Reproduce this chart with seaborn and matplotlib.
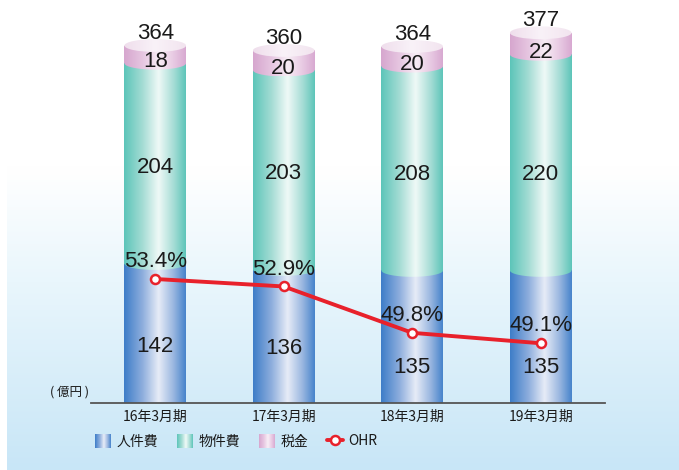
import numpy as np
import pandas as pd
import matplotlib
matplotlib.use("Agg")
import matplotlib.pyplot as plt
import seaborn as sns
from matplotlib.colors import LinearSegmentedColormap
from matplotlib.path import Path
from matplotlib.patches import PathPatch, Ellipse, Rectangle
from matplotlib.lines import Line2D
from matplotlib.legend_handler import HandlerBase

# ---- data -------------------------------------------------------------
periods = ["16年3月期", "17年3月期", "18年3月期", "19年3月期"]
personnel = [142, 136, 135, 135]      # 人件費
property_cost = [204, 203, 208, 220]  # 物件費
tax = [18, 20, 20, 22]                # 税金
totals = [364, 360, 364, 377]
ohr = [53.4, 52.9, 49.8, 49.1]        # OHR (%)
series_names = ["人件費", "物件費", "税金", "OHR"]
unit_label = "( 億円 )"

# ---- style ------------------------------------------------------------
sns.set_theme(style="white")
plt.rcParams["font.family"] = ["Liberation Sans", "Noto Sans CJK JP"]
TXT = "#1a1a1a"
RED = "#e8212b"

cm_blue = LinearSegmentedColormap.from_list(
    "blue", [(0, "#3d7dc8"), (0.3, "#8eaedd"), (0.56, "#e7ecf7"), (0.8, "#9ab7e0"), (1, "#4683cb")])
cm_teal = LinearSegmentedColormap.from_list(
    "teal", [(0, "#5cc5b9"), (0.3, "#a4dcd4"), (0.56, "#eff9f7"), (0.8, "#a7ddd6"), (1, "#5dc5b9")])
cm_pink = LinearSegmentedColormap.from_list(
    "pink", [(0, "#d6a6ce"), (0.3, "#e6c6e1"), (0.56, "#f7edf5"), (0.8, "#e8cae3"), (1, "#d8a9d1")])
cm_face = LinearSegmentedColormap.from_list(
    "face", [(0, "#efdeec"), (0.5, "#f9f2f8"), (1, "#f2e4ef")])
cm_bg = LinearSegmentedColormap.from_list(
    "bg", [(0, "#ffffff"), (0.36, "#ffffff"), (0.6, "#e9f6fc"), (1, "#c8e6f7")])

W, H = 679, 470
fig = plt.figure(figsize=(W / 100, H / 100), dpi=100)

# soft vertical background wash
bg = fig.add_axes([7 / W, 0, 1 - 7 / W, 1], zorder=0)
bg.imshow(np.linspace(0, 1, 256).reshape(-1, 1), cmap=cm_bg, aspect="auto",
          extent=[0, 1, 0, 1], origin="upper", interpolation="bicubic")
bg.set_axis_off()

ax = fig.add_axes([91 / W, 67 / H, 514 / W, 393 / H], zorder=1)
ax.patch.set_alpha(0)

df = pd.DataFrame({"period": periods, "personnel": personnel,
                   "property": property_cost, "tax": tax})
df["c1"] = df["personnel"]
df["c2"] = df["c1"] + df["property"]
df["c3"] = df["c2"] + df["tax"]

# stacked bars: cumulative heights drawn tallest first
for col, c in [("c3", "#d8a9d1"), ("c2", "#5dc5b9"), ("c1", "#4683cb")]:
    sns.barplot(data=df, x="period", y=col, color=c, width=0.48,
                saturation=1, linewidth=0, ax=ax, zorder=1)

YMAX = 400.2
CAP = 6.5  # half-height of the cylinder ellipses, in data units
grad = np.linspace(0, 1, 256).reshape(1, -1)


def segment_path(x0, x1, b, t):
    cx, r = (x0 + x1) / 2, (x1 - x0) / 2
    if b <= 0:
        verts = [(x0, t), (x0, 0), (x1, 0), (x1, t), (x0, t)]
    else:
        th = np.linspace(np.pi, 2 * np.pi, 60)
        arc = list(zip(cx + r * np.cos(th), b + CAP * np.sin(th)))
        verts = [(x0, t)] + arc + [(x1, t), (x0, t)]
    return Path(verts, closed=True)


bar_patches = ax.patches[:len(periods)]
for i, p in enumerate(bar_patches):
    x0, w = p.get_x(), p.get_width()
    x1, cx = x0 + w, x0 + w / 2
    bounds = np.cumsum([0, personnel[i], property_cost[i], tax[i]])
    for k, cm in enumerate([cm_blue, cm_teal, cm_pink]):
        b, t = bounds[k], bounds[k + 1]
        clip = PathPatch(segment_path(x0, x1, b, t), transform=ax.transData,
                         fc="none", ec="none")
        ax.add_patch(clip)
        im = ax.imshow(grad, cmap=cm, extent=(x0, x1, b - CAP, t),
                       aspect="auto", zorder=2 + k, interpolation="bicubic")
        im.set_clip_path(clip)
    top = bounds[-1]
    face = Ellipse((cx, top), w, 2 * CAP, transform=ax.transData,
                   fc="none", ec="none")
    ax.add_patch(face)
    im = ax.imshow(grad, cmap=cm_face, extent=(x0, x1, top - CAP, top + CAP),
                   aspect="auto", zorder=6, interpolation="bicubic")
    im.set_clip_path(face)

    # value labels
    lab = dict(ha="center", va="center", fontsize=16, color=TXT, zorder=10)
    blue_y = [57.5, 55.5, 36.2, 36.2][i]
    ax.text(cx, blue_y, f"{personnel[i]}", **lab)
    ax.text(cx, bounds[1] + 98, f"{property_cost[i]}", **lab)
    ax.text(cx, bounds[2] + 1.5, f"{tax[i]}", **lab)
    ax.text(cx, top + 12.5, f"{totals[i]}", **lab)

ax.set_xlim(-0.5, len(periods) - 0.5)
ax.set_ylim(0, YMAX)
ax.set_yticks([])
ax.set_xlabel("")
ax.set_ylabel("")
for s in ["left", "right", "top"]:
    ax.spines[s].set_visible(False)
ax.spines["bottom"].set_color("#555555")
ax.spines["bottom"].set_linewidth(1.3)
ax.tick_params(axis="x", length=0, pad=5, labelsize=10, colors=TXT)
for lbl in ax.get_xticklabels():
    lbl.set_fontfamily(["Noto Sans CJK JP"])

# OHR line on a secondary scale
ax2 = ax.twinx()
sns.lineplot(x=periods, y=ohr, ax=ax2, color=RED, linewidth=2.8, marker="o",
             markersize=6.5, markerfacecolor="white", markeredgecolor=RED,
             markeredgewidth=1.8, zorder=5)
ax2.set_ylim(45.106, 71.39)
ax2.set_axis_off()
for i, v in enumerate(ohr):
    ax2.annotate(f"{v:.1f}%", xy=(i, v), xytext=(0, 12.5),
                 textcoords="offset points", ha="center", va="center",
                 fontsize=16, color=TXT, zorder=6)

fig.text(89 / W, 1 - 392 / H, unit_label, ha="right", va="center",
         fontsize=9, color=TXT, family=["Noto Sans CJK JP"])


# legend with gradient swatches
class GradientHandler(HandlerBase):
    def __init__(self, cmap):
        super().__init__()
        self.cmap = cmap

    def create_artists(self, legend, orig_handle, xdescent, ydescent,
                       width, height, fontsize, trans):
        n = 16
        return [Rectangle((-xdescent + width * j / n, -ydescent),
                          width / n * 1.08, height,
                          facecolor=self.cmap((j + 0.5) / n),
                          edgecolor="none", transform=trans)
                for j in range(n)]


h_blue = Rectangle((0, 0), 1, 1)
h_teal = Rectangle((0, 0), 1, 1)
h_pink = Rectangle((0, 0), 1, 1)
h_line = Line2D([], [], color=RED, linewidth=2.8, marker="o", markersize=6.5,
                markerfacecolor="white", markeredgecolor=RED,
                markeredgewidth=1.8)
fig.legend([h_blue, h_teal, h_pink, h_line], series_names,
           handler_map={h_blue: GradientHandler(cm_blue),
                        h_teal: GradientHandler(cm_teal),
                        h_pink: GradientHandler(cm_pink)},
           loc="center left", bbox_to_anchor=(95 / W, 1 - 441 / H), ncol=4,
           frameon=False, borderpad=0, borderaxespad=0, handlelength=1.15,
           handleheight=1.2, handletextpad=0.4, columnspacing=1.35,
           prop={"family": ["Noto Sans CJK JP"], "size": 10},
           labelcolor=TXT)

fig.savefig("out.png", dpi=100)
